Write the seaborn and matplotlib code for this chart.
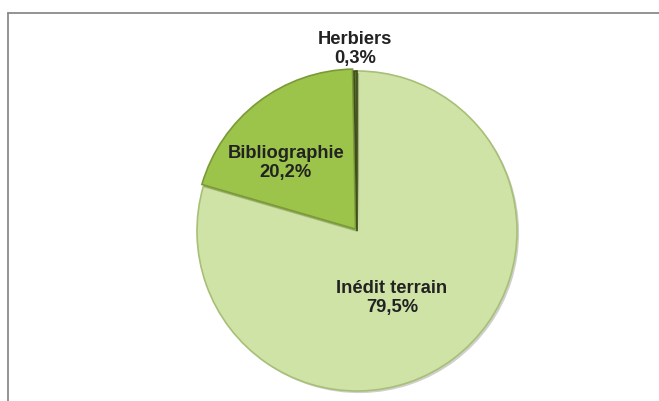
import matplotlib
matplotlib.use("Agg")
import matplotlib.pyplot as plt
import seaborn as sns
from matplotlib.lines import Line2D
import matplotlib.patheffects as pe

sns.set_theme(style="white")
plt.rcParams['font.family'] = ['Liberation Sans', 'DejaVu Sans']

categories = ["Inédit terrain", "Bibliographie", "Herbiers"]
values = [79.5, 20.2, 0.3]
labels = ["Inédit terrain\n79,5%", "Bibliographie\n20,2%", "Herbiers\n0,3%"]
colors = ["#d0e3a7", "#9cc44b", "#5b6f2c"]
edges = ["#a8bf78", "#7a9a35", "#3f4f1c"]

W, H = 659, 401
fig = plt.figure(figsize=(W / 100, H / 100), dpi=100)
ax = fig.add_axes([0, 0, 1, 1])

cx, cy, r = 357, H - 231, 160
explode = [0.0, 0.015 * r, 0.0]  # pie explode is in data units
wedges, _ = ax.pie(values, colors=colors, startangle=90, counterclock=False,
                   explode=explode, center=(cx, cy), radius=r,
                   wedgeprops=dict(linewidth=1.2))
for w, ec in zip(wedges, edges):
    w.set_edgecolor(ec)
    w.set_path_effects([pe.SimplePatchShadow(offset=(1.5, -1.5), alpha=0.25),
                        pe.Normal()])

ax.set_xlim(0, W)
ax.set_ylim(0, H)
ax.set_aspect('equal')
ax.axis('off')

txt_kw = dict(ha='center', va='center', fontsize=13.2, fontweight='bold',
              color='#222222', linespacing=1.2)
ax.text(392, H - 298, labels[0], **txt_kw)
ax.text(286, H - 163, labels[1], **txt_kw)
ax.text(355, H - 49, labels[2], **txt_kw)

# outer chart frame (extends past image on right/bottom)
fig.add_artist(Line2D([8 / W, 1.01], [1 - 13 / H, 1 - 13 / H],
                      transform=fig.transFigure, color='#8a8a8a', lw=1.3))
fig.add_artist(Line2D([8 / W, 8 / W], [1 - 13 / H, -0.01],
                      transform=fig.transFigure, color='#8a8a8a', lw=1.3))

fig.savefig("out.png", dpi=100)
